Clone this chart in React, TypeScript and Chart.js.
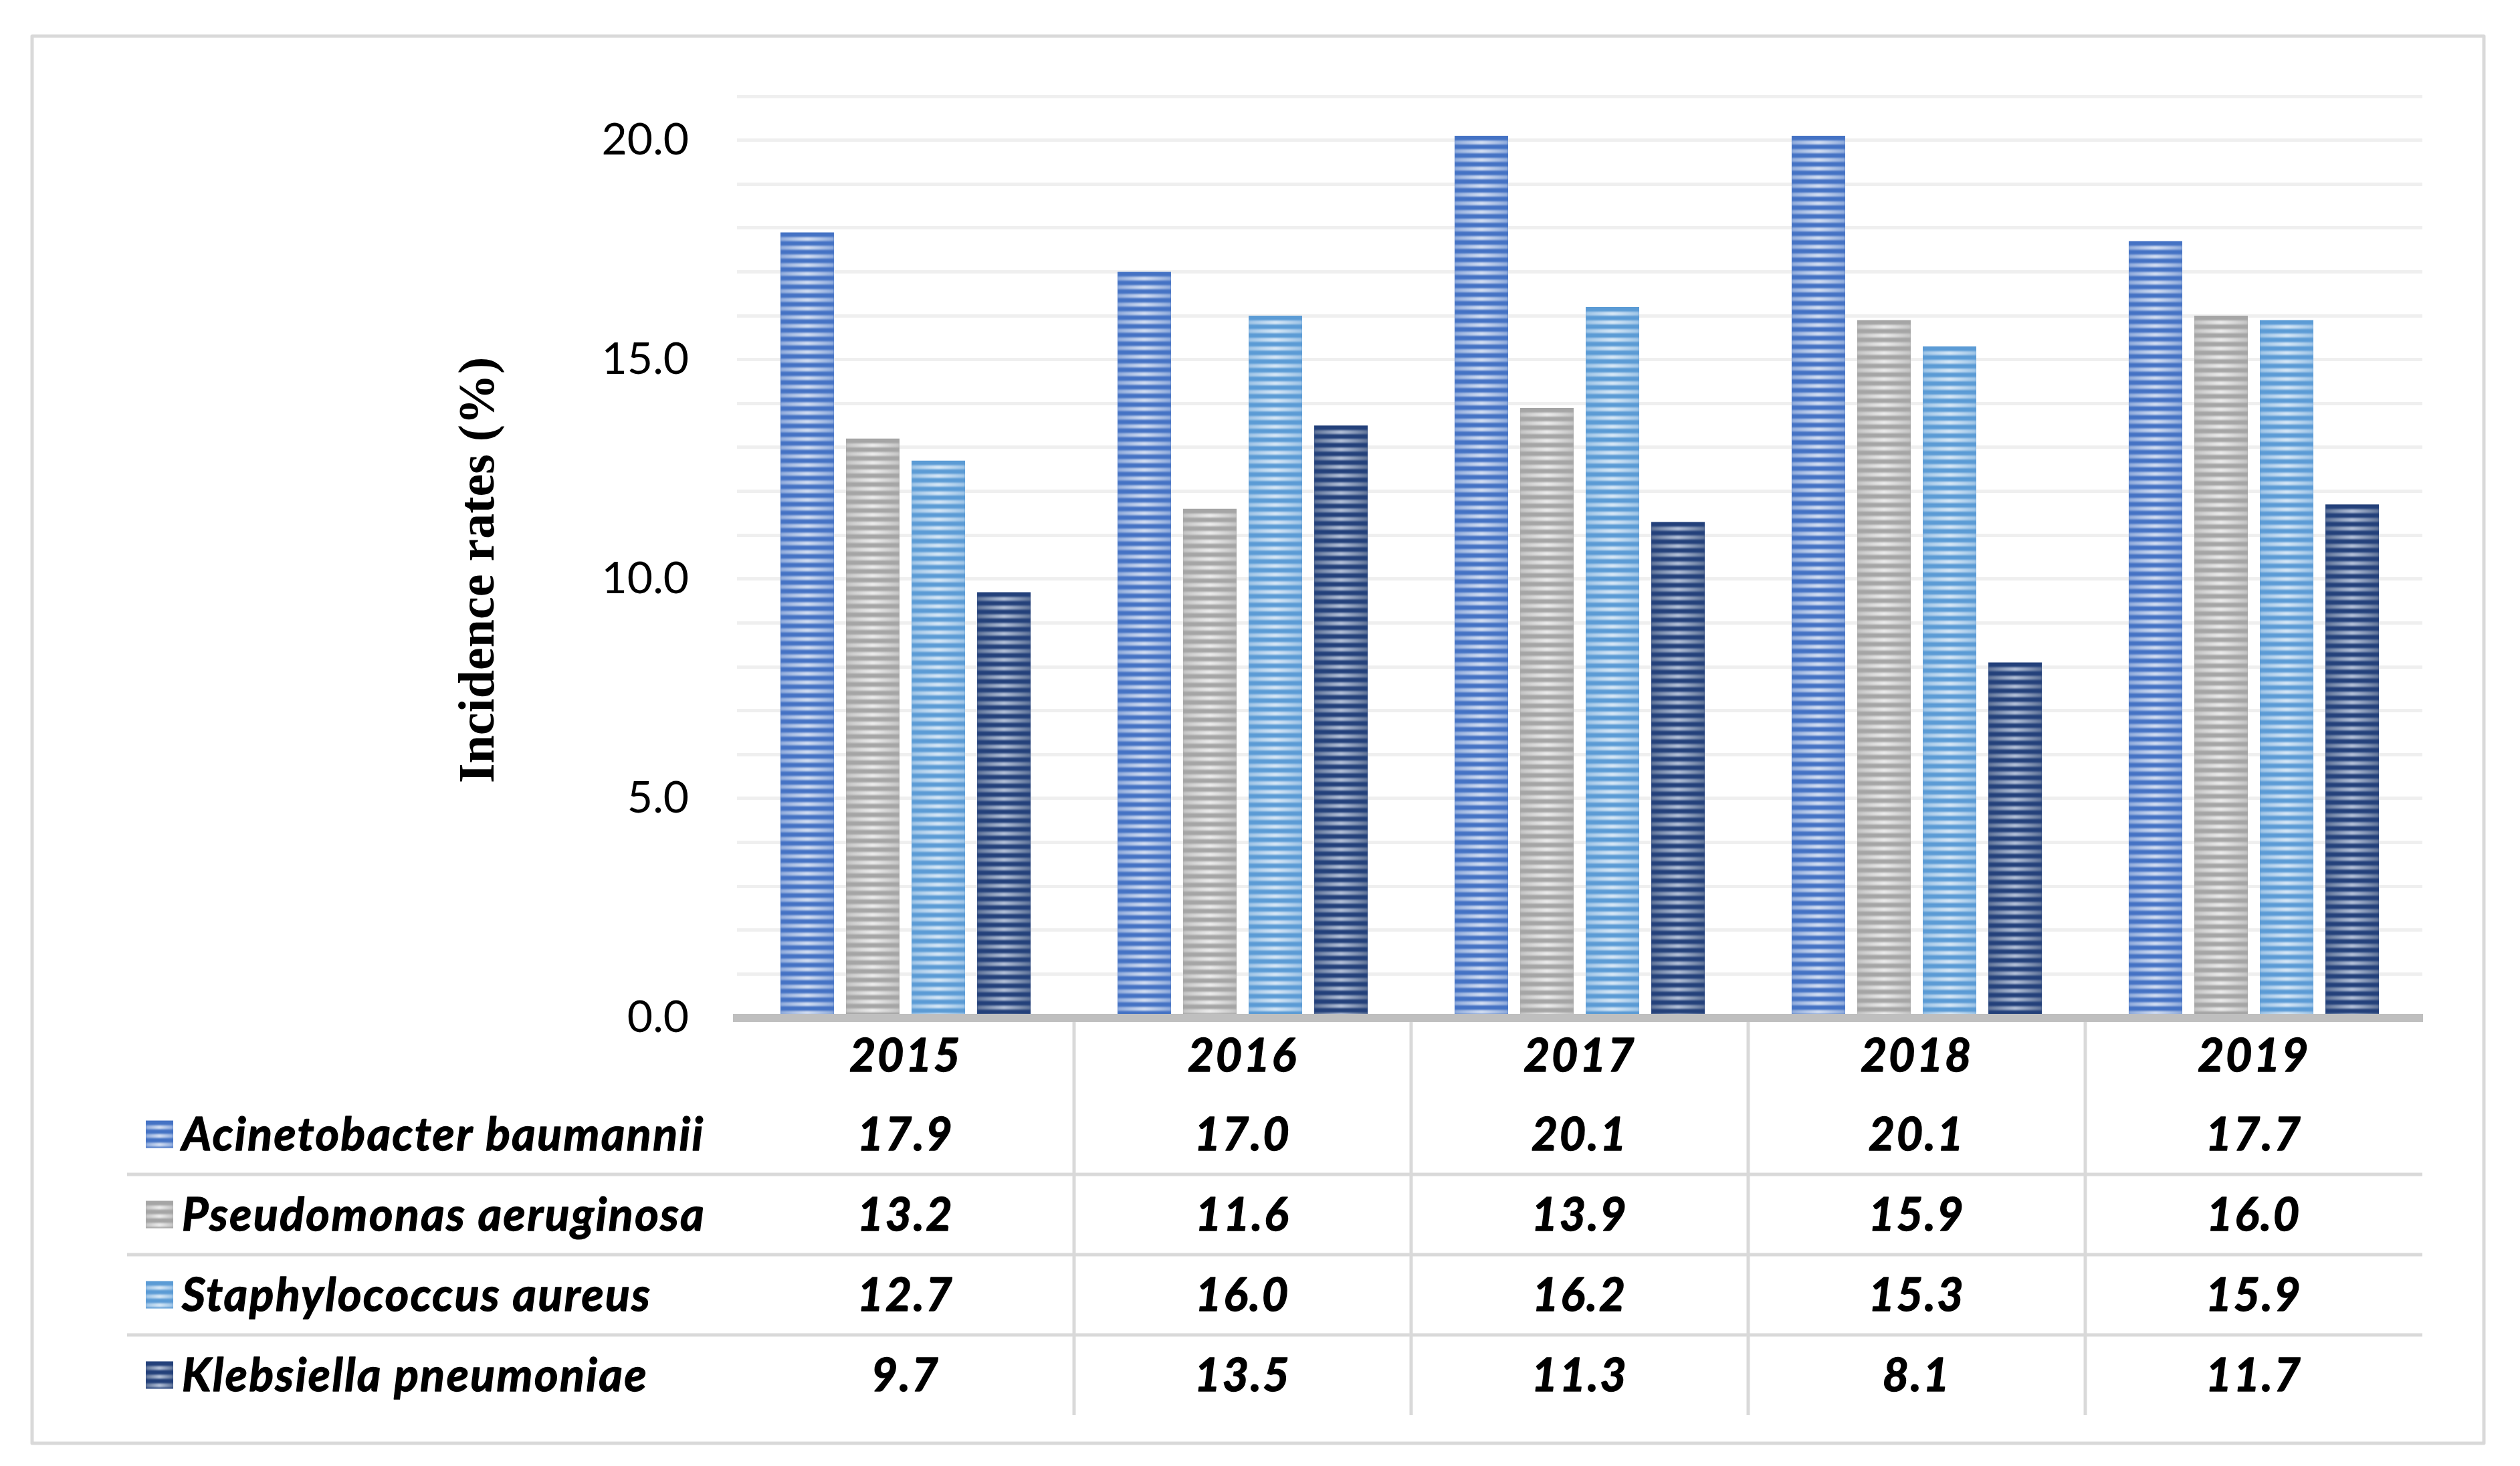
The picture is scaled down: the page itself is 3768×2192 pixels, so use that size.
import { useEffect, useRef } from "react";
import { Chart, registerables } from "chart.js";

Chart.register(...registerables);

// ---- data ----
const years = ["2015", "2016", "2017", "2018", "2019"];
const seriesNames = [
  "Acinetobacter baumannii",
  "Pseudomonas aeruginosa",
  "Staphylococcus aureus",
  "Klebsiella pneumoniae",
];
const acinetobacter = [17.9, 17.0, 20.1, 20.1, 17.7];
const pseudomonas = [13.2, 11.6, 13.9, 15.9, 16.0];
const staphylococcus = [12.7, 16.0, 16.2, 15.3, 15.9];
const klebsiella = [9.7, 13.5, 11.3, 8.1, 11.7];
const yLabelEvery = 5;
const yAxisTitle = "Incidence rates (%)";

// ---- styles ----
const darkColors = ["#4472c4", "#a5a5a5", "#5b9bd5", "#23407a"];
const lightCenters = ["#d3def2", "#ececec", "#d6e7f6", "#b3c0d8"];
const lightEdges = ["#8eaadb", "#c4c4c4", "#9cc3e6", "#5f7398"];

const W = 3768;
const H = 2192;
const SANS = "Lato, 'Open Sans', sans-serif";
const TABLE_FONT = `italic bold 68px ${SANS}`;

function drawStripes(
  ctx: CanvasRenderingContext2D,
  left: number,
  top: number,
  width: number,
  height: number,
  si: number,
  period: number,
  darkH: number,
  lightH: number
) {
  if (height <= 0 || width <= 0) return;
  ctx.save();
  ctx.beginPath();
  ctx.rect(left, top, width, height);
  ctx.clip();
  const g = ctx.createLinearGradient(left, 0, left + width, 0);
  g.addColorStop(0, lightEdges[si]);
  g.addColorStop(0.5, lightCenters[si]);
  g.addColorStop(1, lightEdges[si]);
  ctx.fillStyle = g;
  ctx.filter = "blur(1px)";
  for (let y = top + darkH; y < top + height; y += period) {
    ctx.fillRect(left, y, width, lightH);
  }
  ctx.restore();
}

function boldText(ctx: CanvasRenderingContext2D, text: string, x: number, y: number) {
  ctx.fillText(text, x, y);
  ctx.strokeText(text, x, y);
}

const stripePlugin = {
  id: "stripes",
  afterDatasetsDraw(chart: any) {
    const ctx = chart.ctx as CanvasRenderingContext2D;
    chart.data.datasets.forEach((_: any, di: number) => {
      const meta = chart.getDatasetMeta(di);
      meta.data.forEach((bar: any) => {
        const p = bar.getProps(["x", "y", "base", "width"], true);
        const left = p.x - p.width / 2;
        const top = Math.min(p.y, p.base);
        const h = Math.abs(p.base - p.y);
        drawStripes(ctx, left, top, p.width, h, di, 13, 7, 6);
      });
    });
  },
};

const tablePlugin = {
  id: "dataTable",
  afterDraw(chart: any) {
    const ctx = chart.ctx as CanvasRenderingContext2D;
    const area = chart.chartArea;
    const xs = chart.scales.x;
    const centers = years.map((_, i) => xs.getPixelForValue(i));
    const half = (centers[1] - centers[0]) / 2;
    const headerBaseline = area.bottom + 80;
    const rowStart = area.bottom + 114;
    const rowH = 120;
    const nRows = chart.data.datasets.length;
    const tableBottom = rowStart + nRows * rowH;

    ctx.save();
    // table grid lines
    ctx.strokeStyle = "#d9d9d9";
    ctx.lineWidth = 5;
    for (let i = 0; i < centers.length - 1; i++) {
      const x = centers[i] + half;
      ctx.beginPath();
      ctx.moveTo(x, area.bottom + 6);
      ctx.lineTo(x, tableBottom);
      ctx.stroke();
    }
    for (let r = 1; r < nRows; r++) {
      const y = rowStart + r * rowH;
      ctx.beginPath();
      ctx.moveTo(190, y);
      ctx.lineTo(area.right, y);
      ctx.stroke();
    }

    // text setup
    ctx.fillStyle = "#000";
    ctx.strokeStyle = "#000";
    ctx.lineWidth = 1.4;
    ctx.lineJoin = "round";
    ctx.font = TABLE_FONT;
    (ctx as any).letterSpacing = "2.5px";
    ctx.textBaseline = "alphabetic";

    // header
    ctx.textAlign = "center";
    years.forEach((y, i) => boldText(ctx, y, centers[i], headerBaseline));

    // rows
    chart.data.datasets.forEach((ds: any, r: number) => {
      const baseY = rowStart + r * rowH + 84;
      const midY = rowStart + r * rowH + 60;
      // legend key
      ctx.fillStyle = darkColors[r];
      ctx.fillRect(218, midY - 20.5, 41, 41);
      drawStripes(ctx, 218, midY - 20.5, 41, 41, r, 13, 7, 6);
      ctx.fillStyle = "#000";
      ctx.textAlign = "left";
      boldText(ctx, ds.label, 272, baseY);
      ctx.textAlign = "center";
      ds.data.forEach((v: number, i: number) => {
        boldText(ctx, v.toFixed(1), centers[i], baseY);
      });
    });
    (ctx as any).letterSpacing = "0px";

    // y axis title
    ctx.save();
    ctx.translate(718, area.top + (area.bottom - area.top) * 0.514);
    ctx.rotate(-Math.PI / 2);
    ctx.textAlign = "center";
    ctx.textBaseline = "middle";
    ctx.font = "bold 76px 'Liberation Serif', serif";
    ctx.fillStyle = "#000";
    ctx.fillText(yAxisTitle, 0, 0);
    ctx.restore();

    // outer frame
    ctx.strokeStyle = "#d9d9d9";
    ctx.lineWidth = 5;
    ctx.strokeRect(48, 54, 3666, 2104);
    ctx.restore();
  },
};

const bgPlugin = {
  id: "bg",
  beforeDraw(chart: any) {
    const ctx = chart.ctx as CanvasRenderingContext2D;
    ctx.save();
    ctx.fillStyle = "#fff";
    ctx.fillRect(0, 0, chart.width, chart.height);
    ctx.restore();
  },
};

export default function App() {
  const ref = useRef<HTMLCanvasElement | null>(null);

  useEffect(() => {
    document.body.style.margin = "0";
    const canvas = ref.current;
    if (!canvas) return;
    const seriesValues = [acinetobacter, pseudomonas, staphylococcus, klebsiella];
    const chart = new Chart(canvas, {
      type: "bar",
      data: {
        labels: years,
        datasets: seriesValues.map((vals, i) => ({
          label: seriesNames[i],
          data: vals,
          backgroundColor: darkColors[i],
          borderWidth: 0,
          categoryPercentage: 0.778,
          barPercentage: 0.816,
        })),
      },
      options: {
        animation: false,
        responsive: false,
        devicePixelRatio: 1,
        layout: { padding: { left: 0, top: 144, right: 146, bottom: 0 } },
        plugins: {
          legend: { display: false },
          tooltip: { enabled: false },
          title: { display: false },
        },
        scales: {
          x: {
            type: "category",
            grid: { display: false },
            ticks: { display: false },
            border: { display: true, color: "#bfbfbf", width: 12, z: 1 },
            afterFit: (s: any) => {
              s.height = 670;
            },
          },
          y: {
            min: 0,
            max: 21,
            grid: { color: "#efefef", lineWidth: 5, drawTicks: false },
            border: { display: false },
            ticks: {
              stepSize: 1,
              autoSkip: false,
              padding: 72,
              color: "#000",
              font: { family: SANS, size: 66 },
              callback: (v: any) =>
                Number(v) % yLabelEvery === 0 ? Number(v).toFixed(1) : "",
            },
            title: { display: false, text: yAxisTitle },
            afterFit: (s: any) => {
              s.width = 1102;
            },
          },
        },
      },
      plugins: [bgPlugin, stripePlugin, tablePlugin],
    });
    return () => chart.destroy();
  }, []);

  return (
    <div style={{ width: W, height: H, position: "relative" }}>
      <canvas ref={ref} width={W} height={H} style={{ width: W, height: H, display: "block" }} />
    </div>
  );
}
